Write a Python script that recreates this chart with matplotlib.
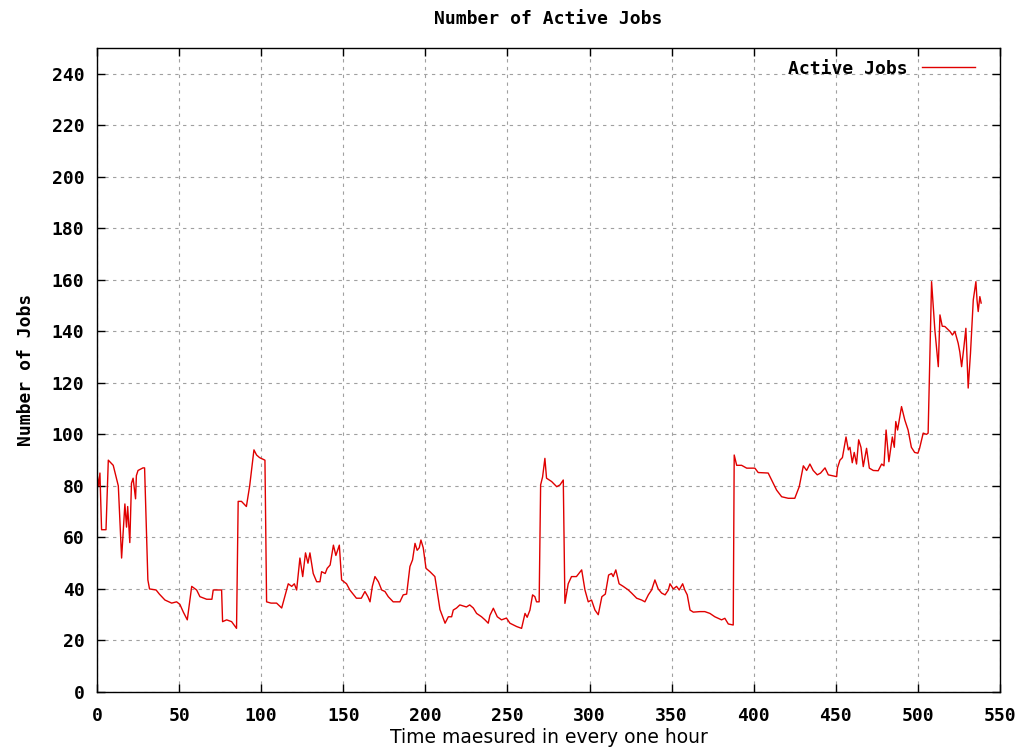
import matplotlib
matplotlib.use("Agg")
import matplotlib.pyplot as plt

# hours and active job counts
hours = [0, 1, 1.8, 2.8, 5.5, 6.9, 9.9, 13, 15, 17, 18, 18.7, 20, 21, 22, 23.5, 24, 25, 28, 29,
         31, 32, 36, 38, 41.4, 45.5, 48.5, 50.5, 52.6, 55, 57.7, 60.7, 62.7, 66.8, 70, 70.8, 75.9,
         76.5, 79, 82, 85, 86, 88, 91, 93, 95.6, 97.2, 99, 102.3, 103.3, 106, 109.4, 112.5,
         116.5, 118.6, 120.2, 121.6, 123.6, 125.3, 127, 128.5, 129.7, 131.7, 133.8, 135.8,
         136.8, 139, 140.2, 142, 144, 145.5, 147.6, 149, 152, 154, 158, 161, 163.2, 165, 166.3,
         167.7, 169.3, 171.4, 173.4, 175.4, 177.4, 180.4, 184.5, 186.5, 188.6, 190.6, 192.2,
         193.7, 195, 196.3, 197.3, 198.7, 200.4, 202.8, 205.8, 208.9, 212, 214, 216, 217, 219,
         221, 225, 227, 229.2, 231.2, 234.2, 236.3, 238.3, 239.3, 241.4, 243.8, 246.4, 249.4,
         251.5, 255.6, 258.6, 260.7, 262, 263.7, 265.3, 266.7, 267.7, 269.3, 270.2, 271.4,
         272.8, 273.8, 276.9, 280, 282, 284, 285, 287, 289, 292, 295.2, 297.2, 299.2, 301.2,
         303.3, 305.3, 307.5, 309.6, 311.6, 313.4, 314.4, 316, 318, 320.5, 323.6, 325.6, 328.7,
         331.7, 333.7, 335.8, 337.8, 339.8, 341.8, 343.9, 346, 348, 349, 351, 353, 354.6, 356.7,
         358, 359.5, 361.2, 363.2, 367.2, 370.2, 373.3, 376.3, 378.4, 380.4, 382.4, 384.5,
         387.5, 388.1, 389.6, 392.6, 395.7, 400.7, 402.7, 408.8, 411.9, 413.9, 417, 421, 425,
         427.7, 430.2, 432.2, 434.2, 436.2, 438.7, 440.7, 443.4, 445.4, 450.5, 451, 452.5, 454,
         456.2, 457.6, 458.6, 460, 461.2, 462.6, 463.9, 465.3, 466.7, 468.7, 470.4, 472.8,
         475.8, 477.9, 479.3, 480.6, 482.3, 484.4, 485.6, 486.5, 487.6, 490, 492, 494, 496, 498,
         500, 501, 503.2, 505.2, 506.2, 508.3, 510.3, 512.4, 513.4, 514.8, 516.4, 519.5, 521,
         522.5, 524.5, 525.5, 526.6, 528, 529.2, 530.6, 532, 533.7, 535.3, 536, 536.7, 537.7,
         538.5]
jobs = [85, 80, 85, 63, 63, 90, 88, 80, 52, 73, 64, 72, 58, 81, 83, 75, 84, 86, 87, 87,
        43.5, 40, 39.6, 38, 35.7, 34.5, 35, 34, 31, 28, 41, 39.6, 37, 36, 36, 39.6, 39.6,
        27.3, 28, 27.3, 24.7, 74, 74, 72, 80, 94, 92, 91, 90, 35, 34.5, 34.5, 32.6,
        42, 41, 42, 39.6, 52, 44.8, 54, 50, 54, 46, 42.8, 42.8,
        46.7, 46, 48, 49.3, 57, 53, 57, 43.5, 42, 39.6, 36.4, 36.4, 39, 37, 35,
        41, 44.8, 42.8, 39.6, 39, 37, 35, 35, 37.7, 38, 48.7, 51.3,
        57.7, 55, 56, 59, 56, 48, 46.7, 44.8, 32, 26.7, 29.2, 29.2, 31.8, 32.6,
        33.8, 33, 33.8, 32.6, 30.5, 29.2, 28, 26.7, 29.7, 32.5, 29.2, 28, 28.7,
        26.7, 25.4, 24.7, 30.5, 29, 31.8, 37.7, 37, 35, 35, 80.4, 83.5,
        90.7, 83, 81.7, 79.7, 80.4, 82.3, 34.4, 42, 44.8, 44.8, 47.4, 39.6, 35, 35.7,
        31.8, 30, 37, 38, 45.4, 46, 44.8, 47.4, 42, 41, 39.6, 38.4, 36.4,
        35.7, 35, 37.7, 39.6, 43.5, 40, 38.4, 37.7, 39.6, 42, 40, 41, 39.6, 42,
        39.6, 37.7, 31.8, 31, 31.2, 31.2, 30.5, 29.2, 28.6, 28, 28.6, 26.4,
        26, 92, 88, 88, 86.9, 86.9, 85.2, 85, 81, 78.4, 75.8, 75.2, 75.2,
        79.7, 87.8, 86, 88.5, 86, 84.3, 85, 87, 84.3, 83.6, 87, 90, 91,
        99, 94, 95, 89, 93, 88.5, 97.9, 95, 87.5, 94.6, 86.9, 86,
        85.9, 88.5, 87.8, 101.7, 89.4, 99, 95, 105, 101.7, 110.8, 105.6, 101.7, 95, 93,
        92.7, 94.6, 100.5, 100, 100.5, 159.3, 140.6, 126.3, 146.4, 142, 141.9, 140, 138.6,
        140, 135.4, 132, 126.3, 134, 141.2, 118, 131.5, 152.2, 159.3, 152, 147.7, 153.5,
        151]

xticks = list(range(0, 551, 50))
yticks = list(range(0, 241, 20))

mono = "DejaVu Sans Mono"

fig = plt.figure(figsize=(10.24, 7.51), dpi=100)
ax = fig.add_axes([0.0947, 0.0786, 0.8819, 0.8574])

ax.plot(hours, jobs, color="#e00000", linewidth=1.0, label="Active Jobs")

ax.set_xlim(0, 550)
ax.set_ylim(0, 250)
ax.set_xticks(xticks)
ax.set_yticks(yticks)
ax.grid(True, color="#a0a0a0", linestyle=(0, (3, 4)), linewidth=0.8)

ax.tick_params(direction="in", length=6, width=1, top=True, right=True, labelsize=13)
ax.tick_params(axis="x", pad=11)
ax.tick_params(axis="y", pad=9)
for lab in ax.get_xticklabels() + ax.get_yticklabels():
    lab.set_family(mono)
    lab.set_fontweight("bold")
for s in ax.spines.values():
    s.set_linewidth(1.0)
    s.set_color("black")

ax.set_title("Number of Active Jobs", family=mono, fontweight="bold", fontsize=13, pad=17)
ax.set_xlabel("Time maesured in every one hour", family="DejaVu Sans", fontsize=13.5, labelpad=2)
ax.set_ylabel("Number of Jobs", family=mono, fontweight="bold", fontsize=13, labelpad=12)

leg = ax.legend(loc="upper right", bbox_to_anchor=(0.985, 1.0), frameon=False,
                markerfirst=False, prop={"family": mono, "weight": "bold", "size": 13},
                handlelength=2.9, borderaxespad=0.25)

fig.savefig("out.png", dpi=100)
